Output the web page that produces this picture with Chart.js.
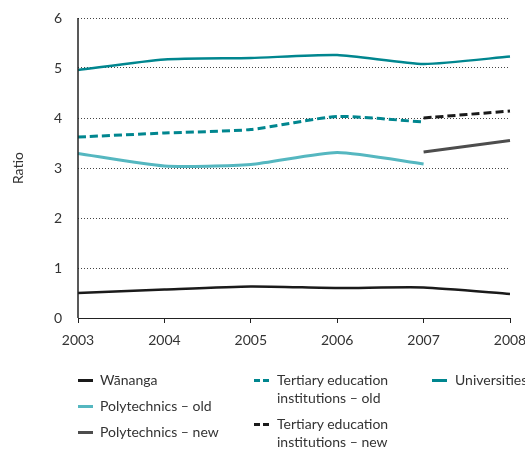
<!DOCTYPE html>
<html><head><meta charset="utf-8">
<script src="https://cdn.jsdelivr.net/npm/chart.js@4.4.0/dist/chart.umd.min.js"></script>
<style>
html,body{margin:0;padding:0;background:#fff;}
#wrap{position:relative;width:525px;height:450px;overflow:hidden;font-family:Lato,"Open Sans",sans-serif;color:#333;}
canvas{position:absolute;left:0;top:0;}
.lg{position:absolute;font-size:14px;line-height:18px;white-space:nowrap;}
.sw{position:absolute;width:15px;height:0;}
</style></head>
<body><div id="wrap"><canvas id="c" width="525" height="450"></canvas><div id="legend"></div></div>
<script>
const years = ["2003","2004","2005","2006","2007","2008"];
const wananga = [0.50, 0.57, 0.63, 0.60, 0.61, 0.48];
const polyOld = [3.29, 3.04, 3.07, 3.31, 3.08, null];
const polyNew = [null, null, null, null, 3.32, 3.55];
const teiOld = [3.62, 3.70, 3.77, 4.03, 3.92, null];
const teiNew = [null, null, null, null, 4.00, 4.14];
const universities = [4.96, 5.17, 5.20, 5.26, 5.08, 5.23];
const yTicks = [0,1,2,3,4,5,6];

const series = [
  {label:"Wānanga", data:wananga, color:"#1a1a1a", width:2.5, dash:[]},
  {label:"Polytechnics – old", data:polyOld, color:"#55b7c0", width:3, dash:[]},
  {label:"Polytechnics – new", data:polyNew, color:"#4d4d4d", width:3, dash:[]},
  {label:"Tertiary education\ninstitutions – old", data:teiOld, color:"#00868f", width:3, dash:[8,4]},
  {label:"Tertiary education\ninstitutions – new", data:teiNew, color:"#1a1a1a", width:3, dash:[8,4]},
  {label:"Universities", data:universities, color:"#00868f", width:2.5, dash:[]}
];

const font = {family:"Lato, 'Open Sans', sans-serif", size:14};
new Chart(document.getElementById('c'), {
  type:'line',
  data:{labels:years, datasets:series.map(s=>({label:s.label, data:s.data, borderColor:s.color, borderWidth:s.width, borderDash:s.dash, pointRadius:0, tension:0.2, spanGaps:false, fill:false}))},
  options:{
    responsive:false, animation:false, events:[],
    layout:{padding:{top:18,left:0,right:15,bottom:92}},
    plugins:{legend:{display:false}, tooltip:{enabled:false}},
    scales:{
      x:{
        grid:{drawOnChartArea:false, drawTicks:true, tickLength:5, color:"#222"},
        border:{color:"#222", width:1},
        ticks:{color:"#333", font:font, padding:9, maxRotation:0, autoSkip:false},
        afterFit:(s)=>{s.height=40; s.paddingLeft=0; s.paddingRight=0;}
      },
      y:{
        min:0, max:6,
        afterBuildTicks:(s)=>{s.ticks=yTicks.map(v=>({value:v}));},
        grid:{drawTicks:false, color:(c)=>c.tick && c.tick.value===0 ? 'rgba(0,0,0,0)' : '#444', lineWidth:1},
        border:{display:false, dash:[1,2]},
        ticks:{color:"#333", font:font, padding:16},
        title:{display:true, text:"Ratio", color:"#333", font:font, padding:{top:10,bottom:0}},
        afterFit:(s)=>{s.width=78; s.paddingTop=0; s.paddingBottom=0;}
      }
    }
  },
  plugins:[{
    id:'yAxisLine',
    afterDraw(chart){
      const a = chart.chartArea, ctx = chart.ctx;
      ctx.save();
      ctx.strokeStyle = '#222'; ctx.lineWidth = 1.5; ctx.setLineDash([]);
      ctx.beginPath(); ctx.moveTo(a.left, a.top); ctx.lineTo(a.left, a.bottom); ctx.stroke();
      ctx.restore();
    }
  }]
});

// HTML legend
const pos = [
  {sx:78, tx:100, y:371},
  {sx:78, tx:100, y:397},
  {sx:78, tx:100, y:423},
  {sx:254, tx:277, y:371},
  {sx:254, tx:277, y:415},
  {sx:432, tx:455, y:371}
];
const lg = document.getElementById('legend');
series.forEach((s,i)=>{
  const p = pos[i];
  const sw = document.createElement('div');
  sw.className='sw';
  sw.style.left=p.sx+'px';
  sw.style.top=(p.y+9-1.5)+'px';
  sw.style.borderTop = '3px '+(s.dash.length?'dashed':'solid')+' '+s.color;
  lg.appendChild(sw);
  const t = document.createElement('div');
  t.className='lg';
  t.style.left=p.tx+'px'; t.style.top=p.y+'px';
  t.innerHTML = s.label.replace('\n','<br>');
  lg.appendChild(t);
});
</script></body></html>
